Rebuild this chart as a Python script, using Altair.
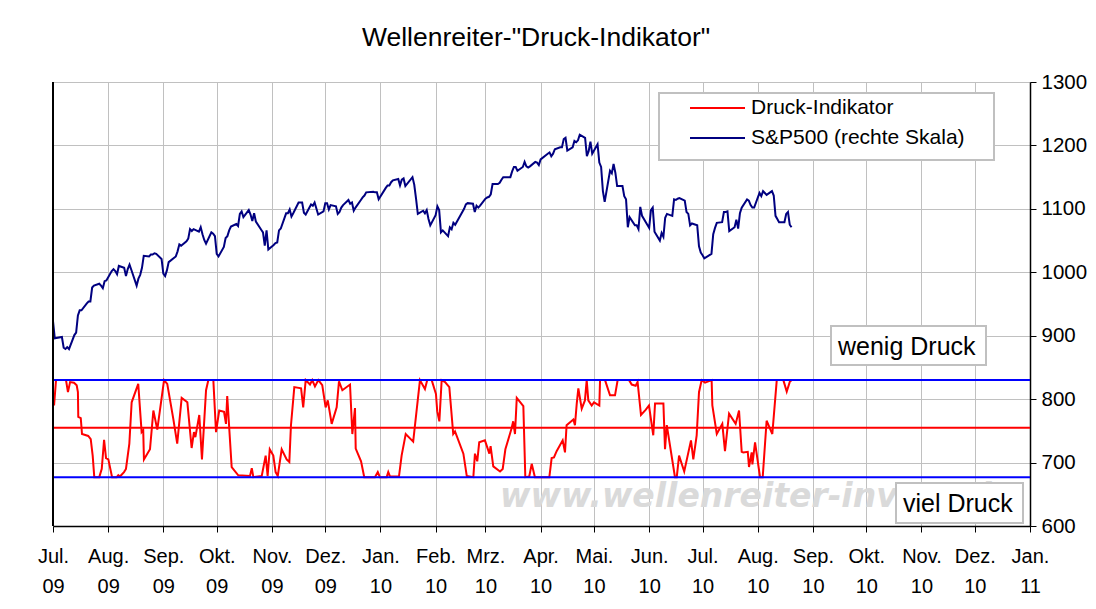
import altair as alt
import pandas as pd

# ---------------- data ----------------
sp_months = ["2009-07", "2009-08", "2009-09", "2009-10", "2009-11", "2009-12", "2010-01",
             "2010-02", "2010-03", "2010-04", "2010-05", "2010-06", "2010-07", "2010-08"]
sp_days = [
    [1, 2, 6, 7, 8, 9, 10, 13, 14, 15, 16, 17, 20, 21, 22, 23, 24, 27, 28, 29, 30, 31],
    [3, 4, 5, 6, 7, 10, 11, 12, 13, 14, 17, 18, 19, 20, 21, 24, 25, 26, 27, 28, 31],
    [1, 2, 3, 4, 8, 9, 10, 11, 14, 15, 16, 17, 18, 21, 22, 23, 24, 25, 28, 29, 30],
    [1, 2, 5, 6, 7, 8, 9, 12, 13, 14, 15, 16, 19, 20, 21, 22, 23, 26, 27, 28, 29, 30],
    [2, 3, 4, 5, 6, 9, 10, 11, 12, 13, 16, 17, 18, 19, 20, 23, 24, 25, 27, 30],
    [1, 2, 3, 4, 7, 8, 9, 10, 11, 14, 15, 16, 17, 18, 21, 22, 23, 24, 28, 29, 30, 31],
    [4, 5, 6, 7, 8, 11, 12, 13, 14, 15, 19, 20, 21, 22, 25, 26, 27, 28, 29],
    [1, 2, 3, 4, 5, 8, 9, 10, 11, 12, 16, 17, 18, 19, 22, 23, 24, 25, 26],
    [1, 2, 3, 4, 5, 8, 9, 10, 11, 12, 15, 16, 17, 18, 19, 22, 23, 24, 25, 26, 29, 30, 31],
    [1, 5, 6, 7, 8, 9, 12, 13, 14, 15, 16, 19, 20, 21, 22, 23, 26, 27, 28, 29, 30],
    [3, 4, 5, 6, 7, 10, 11, 12, 13, 14, 17, 18, 19, 20, 21, 24, 25, 26, 27, 28],
    [1, 2, 3, 4, 7, 8, 9, 10, 11, 14, 15, 16, 17, 18, 21, 22, 23, 24, 25, 28, 29, 30],
    [1, 2, 6, 7, 8, 9, 12, 13, 14, 15, 16, 19, 20, 21, 22, 23, 26, 27, 28, 29, 30],
    [2, 3, 4, 5, 6, 9, 10, 11, 12, 13, 16, 17, 18, 19, 20],
]
sp_closes = [
    [923, 896, 898, 881, 879, 882, 879, 901, 905, 932, 940, 940, 951, 954, 954, 976, 979, 982, 979, 975, 986, 987],
    [1002, 1005, 1002, 997, 1010, 1007, 994, 1005, 1012, 1004, 979, 990, 996, 1007, 1026, 1025, 1028, 1028, 1030, 1029, 1021],
    [998, 994, 1003, 1016, 1025, 1033, 1044, 1042, 1049, 1053, 1068, 1065, 1068, 1064, 1071, 1060, 1051, 1045, 1063, 1061, 1057],
    [1029, 1025, 1040, 1054, 1057, 1066, 1072, 1076, 1073, 1092, 1096, 1087, 1098, 1091, 1081, 1093, 1080, 1067, 1063, 1042, 1066, 1036],
    [1043, 1046, 1047, 1066, 1069, 1093, 1093, 1099, 1088, 1093, 1110, 1110, 1110, 1094, 1091, 1107, 1105, 1110, 1091, 1096],
    [1109, 1109, 1099, 1106, 1104, 1092, 1095, 1102, 1106, 1114, 1108, 1110, 1097, 1102, 1114, 1118, 1121, 1126, 1127, 1126, 1126, 1115],
    [1133, 1137, 1137, 1142, 1145, 1147, 1137, 1146, 1148, 1136, 1150, 1138, 1116, 1092, 1097, 1093, 1098, 1084, 1074],
    [1090, 1104, 1098, 1063, 1066, 1057, 1071, 1068, 1078, 1075, 1095, 1100, 1107, 1109, 1108, 1095, 1105, 1102, 1105],
    [1116, 1118, 1119, 1123, 1139, 1139, 1141, 1146, 1150, 1150, 1150, 1159, 1166, 1166, 1160, 1166, 1174, 1167, 1165, 1167, 1174, 1173, 1169],
    [1178, 1187, 1189, 1183, 1187, 1194, 1197, 1197, 1210, 1212, 1192, 1197, 1207, 1205, 1208, 1217, 1212, 1183, 1191, 1206, 1187],
    [1202, 1173, 1166, 1128, 1111, 1160, 1156, 1171, 1157, 1136, 1136, 1120, 1115, 1071, 1087, 1074, 1074, 1068, 1103, 1089],
    [1070, 1098, 1102, 1064, 1050, 1062, 1056, 1086, 1092, 1089, 1115, 1114, 1116, 1117, 1113, 1095, 1092, 1074, 1077, 1074, 1041, 1031],
    [1027, 1022, 1029, 1060, 1070, 1078, 1079, 1095, 1095, 1096, 1065, 1071, 1083, 1069, 1093, 1102, 1115, 1113, 1106, 1102, 1102],
    [1125, 1120, 1128, 1125, 1122, 1128, 1121, 1089, 1084, 1079, 1079, 1092, 1095, 1075, 1071],
]

# Druck-Indikator: days after 1 Jul 2009 and value (read on the right-hand scale)
druck_days = [
    0.6, 1.7, 7.3, 8.4, 9.6, 11.8, 13.3, 14.0, 14.2, 15.6,
    16.3, 19.8, 21.2, 22.3, 23.2, 26.0, 27.4, 28.7, 29.8, 31.1,
    33.2, 35.8, 36.7, 37.6, 39.9, 41.0, 42.9, 44.2, 47.9, 49.8,
    50.7, 51.1, 54.5, 56.4, 58.6, 60.7, 62.4, 64.2, 67.6, 69.8,
    72.3, 75.5, 77.9, 79.2, 80.0, 82.2, 83.7, 86.0, 87.3, 90.1,
    91.6, 93.4, 96.1, 97.2, 97.9, 100.4, 104.1, 110.7, 111.7, 112.6,
    117.3, 119.5, 120.6, 121.8, 123.8, 125.1, 126.3, 128.5, 131.3, 132.8,
    133.7, 135.6, 139.4, 140.6, 142.0, 144.4, 145.7, 147.2, 149.1, 151.3,
    153.2, 154.4, 156.6, 159.4, 160.7, 162.6, 166.9, 168.2, 169.7, 170.1,
    173.1, 174.9, 180.9, 182.5, 183.7, 187.5, 188.4, 189.4, 194.4, 195.9,
    198.2, 202.4, 206.2, 209.0, 210.3, 212.8, 215.2, 215.9, 217.1, 218.4,
    220.3, 222.7, 224.9, 225.9, 230.6, 232.5, 236.2, 237.1, 238.4, 239.5,
    242.7, 245.2, 245.9, 247.4, 251.2, 252.7, 254.2, 257.7, 258.6, 259.6,
    260.6, 264.3, 265.4, 267.6, 269.0, 270.8, 278.9, 280.2, 281.5, 283.0,
    286.4, 287.7, 288.6, 292.4, 293.3, 294.3, 295.2, 297.1, 298.9, 299.9,
    300.8, 302.7, 304.0, 307.0, 307.4, 310.2, 313.0, 315.8, 317.3, 323.7,
    325.2, 327.4, 328.5, 330.4, 333.0, 334.9, 337.3, 338.3, 343.0, 343.9,
    344.9, 349.5, 350.5, 351.8, 354.7, 358.5, 359.8, 361.7, 363.0, 364.5,
    366.4, 370.1, 370.5, 373.0, 376.1, 377.6, 379.9, 383.6, 385.5, 387.0,
    387.9, 390.4, 391.1, 392.6, 393.0, 394.5, 397.3, 398.8, 401.0, 404.2,
    406.7, 410.4, 412.3, 414.1, 415.1,
]
druck_values = [
    790, 830, 830, 811, 827, 826, 822, 811, 772, 770,
    745, 742, 737, 711, 677, 677, 690, 736, 707, 705,
    677, 677, 680, 678, 685, 690, 730, 795, 824, 748,
    751, 705, 721, 782, 752, 795, 830, 824, 769, 730,
    802, 795, 723, 748, 740, 775, 705, 814, 830, 830,
    748, 782, 780, 761, 805, 693, 680, 679, 691, 677,
    679, 711, 679, 721, 711, 685, 679, 721, 705, 701,
    758, 819, 817, 787, 830, 823, 830, 820, 830, 822,
    787, 798, 761, 787, 828, 814, 823, 745, 786, 722,
    702, 677, 677, 685, 677, 677, 685, 678, 678, 711,
    745, 733, 830, 816, 830, 830, 808, 781, 765, 830,
    827, 819, 745, 749, 714, 679, 677, 714, 702, 732,
    735, 714, 726, 694, 686, 690, 721, 754, 765, 745,
    802, 789, 677, 678, 698, 677, 677, 707, 708, 718,
    735, 716, 759, 768, 759, 793, 817, 785, 798, 830,
    798, 790, 795, 790, 830, 830, 806, 806, 830, 830,
    823, 821, 827, 775, 783, 790, 743, 793, 793, 721,
    759, 677, 677, 711, 686, 735, 705, 743, 811, 830,
    826, 830, 790, 745, 761, 718, 777, 761, 782, 717,
    716, 717, 693, 716, 697, 732, 677, 677, 766, 745,
    830, 830, 812, 828, 830,
]

band_levels = [830, 677]      # blue lines
mid_levels = [755]            # red line
y_ticks = [600, 700, 800, 900, 1000, 1100, 1200, 1300]
month_labels = ["Jan.", "Feb.", "Mrz.", "Apr.", "Mai.", "Jun.", "Jul.", "Aug.",
                "Sep.", "Okt.", "Nov.", "Dez."]
legend_labels = ["Druck-Indikator", "S&P500 (rechte Skala)"]
series_colors = ["#ff0000", "#000080"]
annotation_texts = ["wenig Druck", "viel Druck"]
watermark_text = "www.wellenreiter-invest.de"
title_text = 'Wellenreiter-"Druck-Indikator"'

# ---------------- table ----------------
rows = []
for m, days, closes in zip(sp_months, sp_days, sp_closes):
    for d, c in zip(days, closes):
        rows.append({"date": f"{m}-{d:02d}T00:00:00Z", "value": c, "series": legend_labels[1]})
start = pd.Timestamp("2009-07-01")
for d, v in zip(druck_days, druck_values):
    t = start + pd.Timedelta(days=d)
    rows.append({"date": t.strftime("%Y-%m-%dT%H:%M:%SZ"), "value": v, "series": legend_labels[0]})
df = pd.DataFrame(rows)
df["idx"] = range(len(df))

W, H = 977, 444
FONT = "Liberation Sans"

tick_dates = [alt.DateTime(year=2009 + (6 + i) // 12, month=(6 + i) % 12 + 1, date=1, utc=True)
              for i in range(19)]
month_js = "[" + ",".join(f"'{m}'" for m in month_labels) + "]"
label_expr = f"[{month_js}[utcmonth(datum.value)], utcFormat(datum.value, '%y')]"

x_enc = alt.X(
    "date:T", title=None,
    scale=alt.Scale(type="utc", domain=[alt.DateTime(year=2009, month=7, date=1, utc=True),
                                        alt.DateTime(year=2011, month=1, date=1, utc=True)]),
    axis=alt.Axis(values=tick_dates, labelExpr=label_expr, grid=True, gridColor="#c0c0c0",
                  gridWidth=1, domainColor="black", domainWidth=1.5, tickColor="black",
                  tickSize=6, labelFont=FONT, labelFontSize=20, labelColor="black",
                  labelLineHeight=30, labelPadding=14, labelOverlap=False, labelFlush=False,
                  labelBound=False),
)
y_enc = alt.Y(
    "value:Q", title=None, scale=alt.Scale(domain=[600, 1300], nice=False, zero=False),
    axis=alt.Axis(orient="right", values=y_ticks, format="d", grid=True, gridColor="#c0c0c0",
                  gridWidth=1, domainColor="black", domainWidth=1.5, tickColor="black",
                  tickSize=6, labelFont=FONT, labelFontSize=20.5, labelColor="black",
                  labelPadding=5, labelFlush=False, labelOverlap=False),
)

one = pd.DataFrame({"k": [0]})

watermark = alt.Chart(pd.DataFrame({"t": [watermark_text]})).mark_text(
    font="DejaVu Sans", fontSize=33, fontWeight="bold", fontStyle="italic",
    color="#dadada", align="left", baseline="alphabetic"
).encode(x=alt.value(447), y=alt.value(425), text="t:N")

lines = alt.Chart(df).mark_line(strokeWidth=2, clip=True).encode(
    x=x_enc, y=y_enc,
    color=alt.Color("series:N", scale=alt.Scale(domain=legend_labels, range=series_colors), legend=None),
    order=alt.Order("idx:Q"),
)

blue_rules = alt.Chart(pd.DataFrame({"level": band_levels})).mark_rule(
    color="#0000ff", strokeWidth=2).encode(y=alt.Y("level:Q", title=None))
red_rules = alt.Chart(pd.DataFrame({"level": mid_levels})).mark_rule(
    color="#ff0000", strokeWidth=2).encode(y=alt.Y("level:Q", title=None))

box_style = dict(fill="white", stroke="#c0c0c0", strokeWidth=2)
legend_box = alt.Chart(one).mark_rect(**box_style).encode(
    x=alt.value(606), x2=alt.value(941), y=alt.value(11), y2=alt.value(78))
legend_layers = []
for i, (lab, col) in enumerate(zip(legend_labels, series_colors)):
    yy = 26 + 30 * i
    legend_layers.append(alt.Chart(one).mark_rule(color=col, strokeWidth=2).encode(
        x=alt.value(637), x2=alt.value(692), y=alt.value(yy)))
    legend_layers.append(alt.Chart(pd.DataFrame({"t": [lab]})).mark_text(
        font=FONT, fontSize=21, color="black", align="left", baseline="middle").encode(
        x=alt.value(698), y=alt.value(yy), text="t:N"))

ann_boxes = [(778, 933, 244, 283), (843, 970, 401, 441)]
ann_layers = []
for txt, (x1, x2, y1, y2) in zip(annotation_texts, ann_boxes):
    ann_layers.append(alt.Chart(one).mark_rect(**box_style).encode(
        x=alt.value(x1), x2=alt.value(x2), y=alt.value(y1), y2=alt.value(y2)))
    ann_layers.append(alt.Chart(pd.DataFrame({"t": [txt]})).mark_text(
        font=FONT, fontSize=25, color="black", align="left", baseline="middle").encode(
        x=alt.value(x1 + 7), y=alt.value((y1 + y2) / 2 + 1), text="t:N"))

left_axis = alt.Chart(one).mark_rule(color="black", strokeWidth=2).encode(
    x=alt.value(0), y=alt.value(0), y2=alt.value(H))

title = alt.Chart(pd.DataFrame({"t": [title_text]})).mark_text(
    font=FONT, fontSize=26.5, color="black", align="center", baseline="middle").encode(
    x=alt.value(483), y=alt.value(-44), text="t:N")

frame_left = alt.Chart(one).mark_rule(color="#404040", strokeWidth=1.5).encode(
    x=alt.value(-46), y=alt.value(-82), y2=alt.value(540))

chart = alt.layer(
    watermark, lines, blue_rules, red_rules, legend_box, *legend_layers, *ann_layers,
    left_axis, title, frame_left,
).properties(
    width=W, height=H,
    autosize=alt.AutoSizeParams(type="none"),
    padding={"left": 45, "top": 74, "right": 58, "bottom": 75},
    background="white",
).configure_view(stroke="#808080", strokeWidth=1)

chart.save("out.html", embed_options={"renderer": "svg", "actions": False})
